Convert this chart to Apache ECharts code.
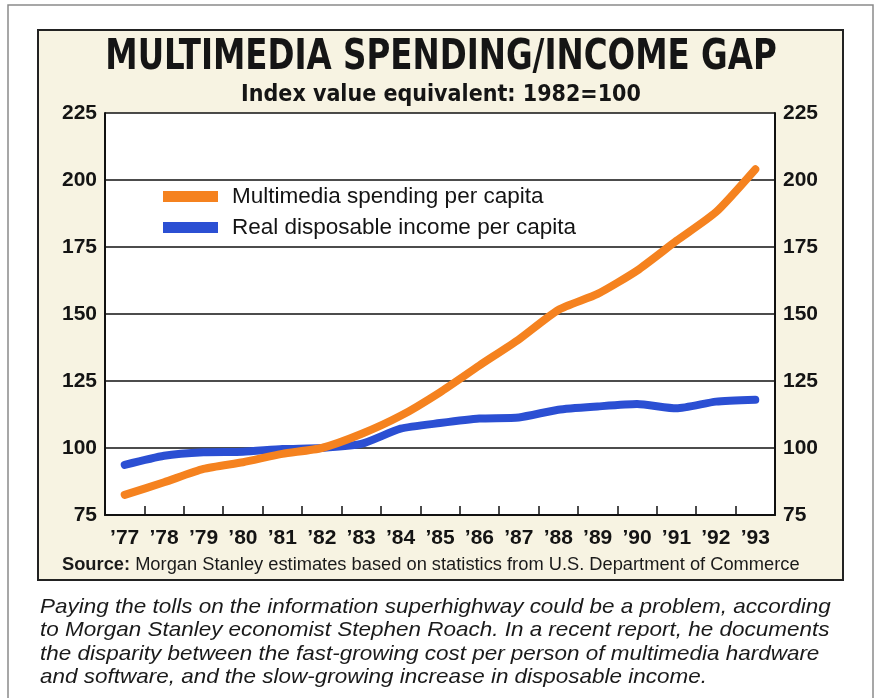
<!DOCTYPE html>
<html>
<head>
<meta charset="utf-8">
<script src="https://cdn.jsdelivr.net/npm/echarts@6/dist/echarts.min.js"></script>
<style>
html,body{margin:0;padding:0;background:#fff;}
#chart{width:879px;height:698px;}
</style>
</head>
<body>
<div id="chart"></div>
<script>
var years = ["’77","’78","’79","’80","’81","’82","’83","’84","’85","’86","’87","’88","’89","’90","’91","’92","’93"];
var multimediaSpending = [82.5, 87.2, 92.2, 94.7, 97.8, 100, 105.2, 112, 120.8, 130.8, 140.5, 151.5, 157.5, 166.2, 177.3, 188, 204];
var disposableIncome = [93.7, 97.1, 98.4, 98.6, 99.6, 100, 101.5, 107.2, 109.3, 111, 111.4, 114.3, 115.5, 116.4, 114.8, 117.3, 118];
var yTicks = {min: 75, max: 225, interval: 25};
var seriesNames = ["Multimedia spending per capita", "Real disposable income per capita"];
var titleText = "MULTIMEDIA SPENDING/INCOME GAP";
var subtitleText = "Index value equivalent: 1982=100";
var sourceText = "Morgan Stanley estimates based on statistics from U.S. Department of Commerce";
var captionLines = [
  "Paying the tolls on the information superhighway could be a problem, according",
  "to Morgan Stanley economist Stephen Roach. In a recent report, he documents",
  "the disparity between the fast-growing cost per person of multimedia hardware",
  "and software, and the slow-growing increase in disposable income."
];

var chart = echarts.init(document.getElementById('chart'), null, {renderer: 'canvas'});
var axisLabelStyle = {color: '#141414', fontSize: 21, fontWeight: 'bold', fontFamily: 'Liberation Sans, Arial, sans-serif'};

var option = {
  backgroundColor: '#ffffff',
  animation: false,
  graphic: [
    {type: 'rect', z: -10, shape: {x: 8, y: 5, width: 865, height: 720}, style: {fill: '#ffffff', stroke: '#8a8a8a', lineWidth: 1.5}},
    {type: 'rect', z: -9, shape: {x: 38, y: 30, width: 805, height: 550}, style: {fill: '#f7f3e2', stroke: '#222', lineWidth: 2}},
    {type: 'rect', z: -8, shape: {x: 105, y: 113, width: 670, height: 402}, style: {fill: '#ffffff'}},
    {type: 'text', x: 441, y: 58, scaleX: 0.86, style: {text: titleText, fill: '#151515', font: 'bold 42px "DejaVu Sans Condensed", sans-serif', textAlign: 'center', textVerticalAlign: 'middle'}},
    {type: 'text', x: 441, y: 95, style: {text: subtitleText, fill: '#151515', font: 'bold 23px "DejaVu Sans Condensed", sans-serif', textAlign: 'center', textVerticalAlign: 'middle'}},
    {type: 'text', x: 62, y: 565, style: {text: '{b|Source:} ' + sourceText, fill: '#1a1a1a', font: '18.3px "Liberation Sans", Arial, sans-serif', textVerticalAlign: 'middle',
      rich: {b: {fontWeight: 'bold', fontSize: 18.3, fontFamily: 'Liberation Sans, Arial, sans-serif', fill: '#1a1a1a'}}}},
    {type: 'text', x: 40, y: 595, scaleX: 1.07, style: {text: captionLines.join('\n'), fill: '#1a1a1a', font: 'italic 21px "Liberation Sans", Arial, sans-serif', lineHeight: 23.5, textVerticalAlign: 'top'}}
  ],
  legend: {
    orient: 'vertical',
    left: 158,
    top: 180,
    itemWidth: 55,
    itemHeight: 11,
    itemGap: 8,
    icon: 'rect',
    textStyle: {color: '#141414', fontSize: 22.5, fontFamily: 'Liberation Sans, Arial, sans-serif', padding: [0, 0, 0, 9]},
    data: seriesNames
  },
  grid: {left: 105, right: 104, top: 113, bottom: 183, containLabel: false},
  xAxis: {
    type: 'category',
    data: years,
    boundaryGap: true,
    axisLine: {show: true, lineStyle: {color: '#111', width: 2}},
    axisTick: {show: true, inside: true, length: 9, lineStyle: {color: '#111', width: 1.5}},
    axisLabel: Object.assign({margin: 13, interval: 0}, axisLabelStyle),
    splitLine: {show: false}
  },
  yAxis: [
    {type: 'value', min: yTicks.min, max: yTicks.max, interval: yTicks.interval, position: 'left',
      axisLine: {show: true, lineStyle: {color: '#111', width: 2}}, axisTick: {show: false},
      axisLabel: Object.assign({margin: 8}, axisLabelStyle),
      splitLine: {show: true, lineStyle: {color: '#111', width: 1.5}}},
    {type: 'value', min: yTicks.min, max: yTicks.max, interval: yTicks.interval, position: 'right',
      axisLine: {show: true, lineStyle: {color: '#111', width: 2}}, axisTick: {show: false},
      axisLabel: Object.assign({margin: 8}, axisLabelStyle),
      splitLine: {show: false}}
  ],
  series: [
    {name: seriesNames[0], type: 'line', data: multimediaSpending, yAxisIndex: 0, showSymbol: false, symbol: 'none', smooth: 0.2,
      itemStyle: {color: '#f5821f'}, lineStyle: {color: '#f5821f', width: 8, cap: 'round', join: 'round'}, z: 3},
    {name: seriesNames[1], type: 'line', data: disposableIncome, yAxisIndex: 0, showSymbol: false, symbol: 'none', smooth: 0.2,
      itemStyle: {color: '#2b4fd3'}, lineStyle: {color: '#2b4fd3', width: 8, cap: 'round', join: 'round'}, z: 2}
  ]
};
chart.setOption(option);
</script>
</body>
</html>
